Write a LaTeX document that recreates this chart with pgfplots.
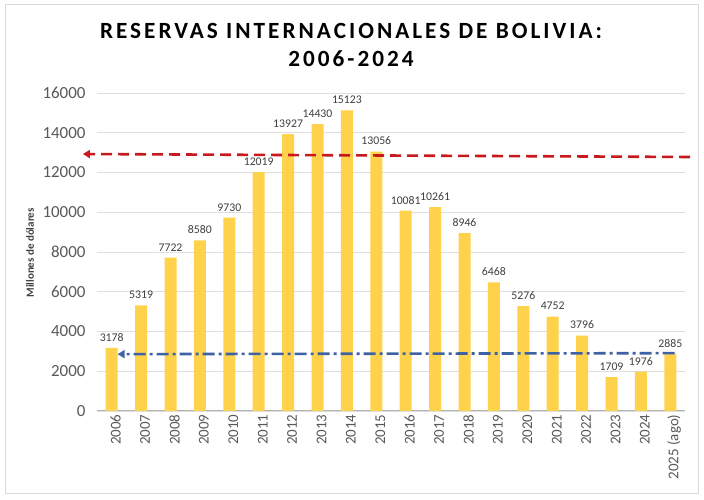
\documentclass[border=0pt]{standalone}
\usepackage{fontspec}
\setmainfont{Carlito}
\newfontfamily\titlefont[LetterSpace=13]{Carlito}
\usepackage{pgfplots}
\pgfplotsset{compat=1.18}
\usetikzlibrary{arrows.meta}
\definecolor{baryellow}{HTML}{FFD24C}
\definecolor{arrred}{HTML}{C8191E}
\definecolor{arrblue}{HTML}{3F62A4}
\definecolor{ticktext}{HTML}{595959}
\definecolor{lbltext}{HTML}{404040}
\begin{document}
\begin{tikzpicture}
\fill[white] (0,0) rectangle (704bp,500bp);
\draw[color=black!15, line width=1bp] (5bp,6bp) rectangle (698bp,495bp);
\node[anchor=base, font=\titlefont\bfseries\fontsize{23.3}{24}\selectfont] at (351bp,461bp) {RESERVAS INTERNACIONALES DE BOLIVIA:};
\node[anchor=base, font=\titlefont\bfseries\fontsize{23.3}{24}\selectfont] at (351bp,433bp) {2006-2024};
\begin{axis}[
  at={(97bp,89bp)}, anchor=south west,
  width=588bp, height=318bp, scale only axis,
  xmin=-0.5, xmax=19.5, ymin=0, ymax=16000,
  clip=false,
  axis x line*=bottom, axis y line*=left,
  x axis line style={draw=black!30, line width=1bp},
  y axis line style={draw=none},
  major tick length=0pt,
  ytick={0,2000,...,16000},
  ymajorgrids, grid style={draw=black!13, line width=0.8bp},
  xtick={0,...,19},
  xticklabels={2006,2007,2008,2009,2010,2011,2012,2013,2014,2015,2016,2017,2018,2019,2020,2021,2022,2023,2024,2025 (ago)},
  /pgf/number format/assume math mode=true,
  /pgf/number format/1000 sep={},
  scaled y ticks=false,
  y tick label style={font=\fontsize{17}{17}\selectfont, text=ticktext, xshift=-8bp},
  x tick label style={font=\fontsize{15}{15}\selectfont, text=ticktext, rotate=90, anchor=east, yshift=-4bp},
  ylabel={Millones de dólares},
  ylabel style={at={(axis description cs:-0.1139,0.497)}, anchor=center, font=\bfseries\fontsize{11}{11}\selectfont, text=lbltext},
]
\addplot[ybar, bar width=12bp, fill=baryellow, draw=none,
  nodes near coords,
  every node near coord/.append style={font=\fontsize{11.8}{11.8}\selectfont, text=lbltext, anchor=south, yshift=3bp}]
coordinates {
(0,3178) (1,5319) (2,7722) (3,8580) (4,9730) (5,12019) (6,13927) (7,14430) (8,15123) (9,13056)
(10,10081) (11,10261) (12,8946) (13,6468) (14,5276) (15,4752) (16,3796) (17,1709) (18,1976) (19,2885)
};
\addplot[color=arrred, line width=2.6bp, dash pattern=on 11bp off 6bp, -{Triangle[length=7bp,width=8bp]}]
coordinates {(19.67,12780) (-0.98,12930)};
\addplot[color=arrblue, line width=2.6bp, dash pattern=on 12bp off 4bp on 3bp off 4bp, -{Triangle[length=7bp,width=8bp]}]
coordinates {(19.15,2910) (0.2,2860)};
\end{axis}
\end{tikzpicture}
\end{document}
